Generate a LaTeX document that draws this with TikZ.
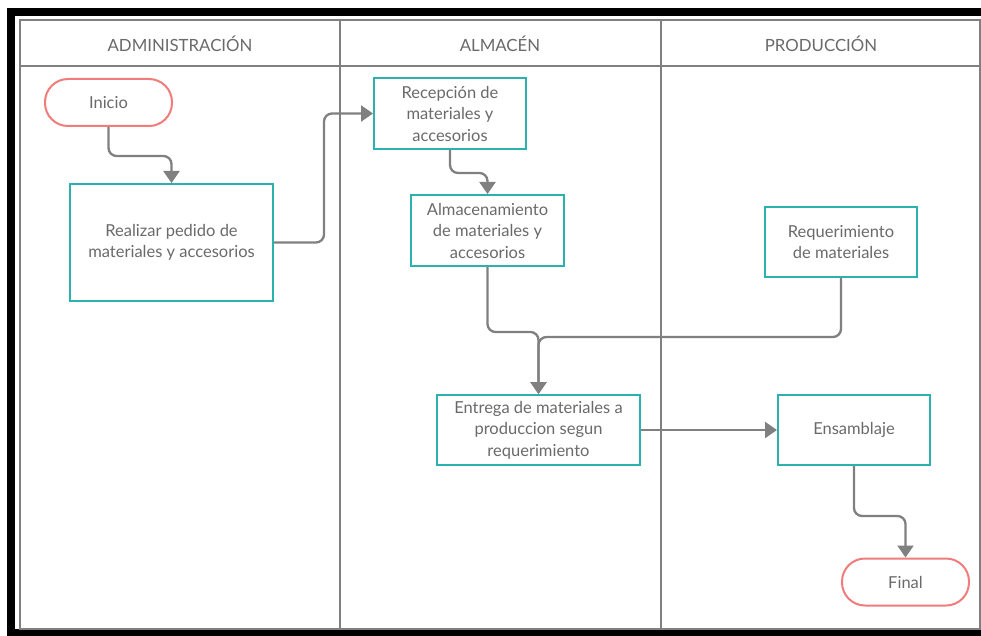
\documentclass[tikz,border=0pt]{standalone}
\usepackage{fontspec}
\setmainfont{Lato}
\usetikzlibrary{arrows.meta}
\definecolor{gris}{HTML}{808080}
\definecolor{turquesa}{HTML}{2BB2B0}
\definecolor{rojo}{HTML}{F07C7C}
\definecolor{texto}{HTML}{6A6A6A}
\begin{document}
\begin{tikzpicture}[x=1pt,y=-1pt]
		% Styles
		\tikzstyle{marco}=[draw=black,line width=8pt]
		\tikzstyle{carril}=[draw=gris,line width=2.4pt]
		\tikzstyle{titulo}=[text=texto,font=\fontsize{16.8}{20}\selectfont]
		\tikzstyle{proceso}=[draw=turquesa,line width=2pt,fill=white,inner sep=0pt,align=center,text=texto,font=\fontsize{16.5}{21.5}\selectfont]
		\tikzstyle{terminal}=[draw=rojo,line width=2pt,fill=white,inner sep=0pt,rounded corners=23pt,minimum width=127pt,minimum height=47pt,text=texto,font=\fontsize{16.5}{21.5}\selectfont]
		\tikzstyle{enlace}=[-{Triangle[width=16pt,length=12pt]},draw=gris,line width=2.3pt,rounded corners=8pt]
		
		\useasboundingbox (0,0) rectangle (981,636);
		\fill[white] (0,0) rectangle (981,636);
		% Marco y carriles
		\draw[marco] (985,12) -- (11,12) -- (11,633) -- (985,633);
		\draw[carril] (20,20) rectangle (980,629);
		\draw[carril] (20,66) -- (980,66);
		\draw[carril] (340,20) -- (340,629);
		\draw[carril] (661,20) -- (661,629);
		
		\node[titulo] (Tadm) at (180,44) {ADMINISTRACIÓN};
		\node[titulo] (Talm) at (500,44) {ALMACÉN};
		\node[titulo] (Tpro) at (821,44) {PRODUCCIÓN};
		
		% Noeuds
		\node[terminal] (Inicio) at (108.5,102.5) {Inicio};
		\node[proceso,minimum width=203pt,minimum height=117pt] (Pedido) at (171.5,242.5) {Realizar pedido de\\materiales y accesorios};
		\node[proceso,minimum width=152pt,minimum height=71pt] (Recepcion) at (450,113.5) {Recepción de\\materiales y\\accesorios};
		\node[proceso,minimum width=153pt,minimum height=71pt] (Almacen) at (487.5,230.5) {Almacenamiento\\de materiales y\\accesorios};
		\node[proceso,minimum width=152pt,minimum height=70pt] (Reque) at (841,242) {Requerimiento\\de materiales};
		\node[proceso,minimum width=203pt,minimum height=70pt] (Entrega) at (538.5,430) {Entrega de materiales a\\produccion segun\\requerimiento};
		\node[proceso,minimum width=152pt,minimum height=70pt] (Ensam) at (854,430) {Ensamblaje};
		\node[terminal] (Final) at (905.5,582) {Final};
		
		% Arcs
		\draw[enlace] (Inicio.south) -- ++(0,29) -| (Pedido.north);
		\draw[enlace] (Pedido.east) -- ++(50,0) |- (Recepcion.west);
		\draw[enlace] (Recepcion.south) -- ++(0,23) -| (Almacen.north);
		\draw[enlace] (Almacen.south) -- ++(0,65) -| (Entrega.north);
		\draw[enlace] (Reque.south) -- ++(0,59) -| (Entrega.north);
		\draw[enlace] (Entrega.east) -- (Ensam.west);
		\draw[enlace] (Ensam.south) -- ++(0,50) -| (Final.north);
		
	\end{tikzpicture}
\end{document}
